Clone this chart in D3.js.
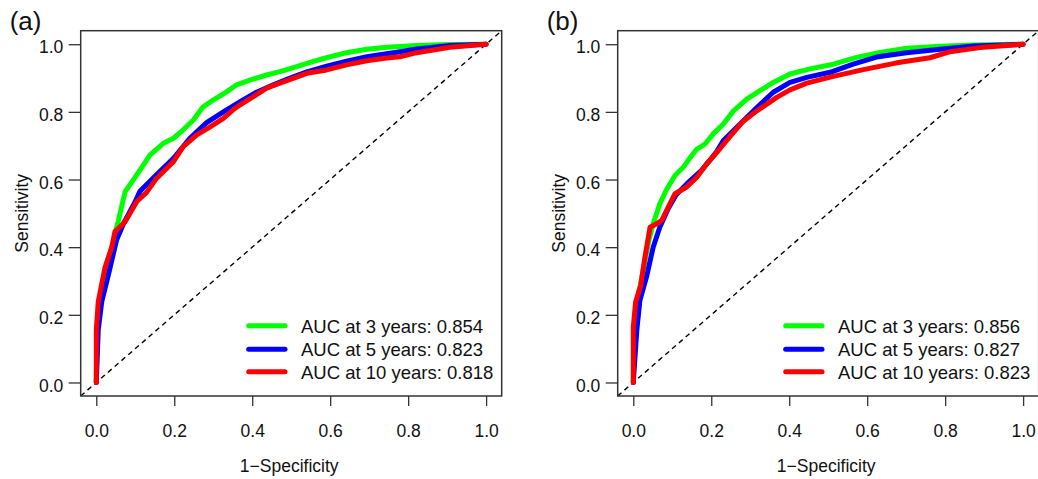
<!DOCTYPE html>
<html>
<head>
<meta charset="utf-8">
<script src="https://cdn.jsdelivr.net/npm/d3@7"></script>
<style>
  html, body { margin: 0; padding: 0; background: #fff; }
  svg { display: block; }
  text { font-family: "Liberation Sans", Arial, Helvetica, sans-serif; fill: #111; }
</style>
</head>
<body>
<svg id="chart" width="1038" height="479"></svg>
<script>
// Axis ticks shared by both panels
const tickValues = [0, 0.2, 0.4, 0.6, 0.8, 1.0];
const tickLabels = ["0.0", "0.2", "0.4", "0.6", "0.8", "1.0"];

// Legend entries and colours (time points)
const seriesNames = ["3 years", "5 years", "10 years"];
const seriesColors = ["#00ff00", "#0000ff", "#ff0000"];

// Panel (a): ROC points as [1-specificity, sensitivity]
const rocA3 = [[0,0],[0.002,0.155],[0.008,0.24],[0.025,0.33],[0.042,0.41],[0.05,0.45],[0.056,0.475],[0.065,0.52],[0.074,0.564],[0.095,0.599],[0.115,0.633],[0.138,0.673],[0.172,0.707],[0.198,0.722],[0.223,0.747],[0.249,0.776],[0.274,0.815],[0.300,0.835],[0.335,0.860],[0.360,0.880],[0.394,0.894],[0.437,0.909],[0.471,0.919],[0.514,0.934],[0.557,0.949],[0.600,0.963],[0.642,0.975],[0.694,0.985],[0.745,0.991],[0.779,0.993],[0.822,0.996],[0.907,0.999],[1,1]];
const rocA5 = [[0,0],[0.005,0.155],[0.014,0.239],[0.031,0.318],[0.052,0.421],[0.07,0.47],[0.10,0.535],[0.112,0.565],[0.155,0.615],[0.198,0.663],[0.240,0.722],[0.283,0.768],[0.326,0.800],[0.369,0.830],[0.411,0.858],[0.454,0.880],[0.497,0.900],[0.540,0.918],[0.591,0.935],[0.642,0.950],[0.694,0.963],[0.745,0.972],[0.779,0.978],[0.822,0.986],[0.907,0.996],[1,1]];
const rocA10 = [[0,0],[0,0.155],[0.005,0.239],[0.022,0.338],[0.040,0.402],[0.048,0.446],[0.074,0.475],[0.104,0.535],[0.129,0.562],[0.155,0.604],[0.198,0.653],[0.223,0.697],[0.258,0.732],[0.292,0.756],[0.326,0.781],[0.351,0.806],[0.369,0.821],[0.403,0.845],[0.437,0.870],[0.471,0.885],[0.505,0.899],[0.540,0.914],[0.591,0.924],[0.642,0.939],[0.694,0.951],[0.745,0.959],[0.779,0.963],[0.822,0.975],[0.907,0.991],[1,1]];
const aucA = [0.854, 0.823, 0.818];

// Panel (b): ROC points as [1-specificity, sensitivity]
const rocB3 = [[0,0],[0.003,0.16],[0.01,0.24],[0.025,0.33],[0.04,0.42],[0.051,0.469],[0.068,0.528],[0.086,0.572],[0.107,0.612],[0.128,0.636],[0.150,0.671],[0.163,0.690],[0.184,0.705],[0.205,0.735],[0.231,0.764],[0.257,0.803],[0.291,0.838],[0.325,0.863],[0.359,0.887],[0.402,0.912],[0.453,0.927],[0.513,0.941],[0.573,0.961],[0.633,0.976],[0.701,0.988],[0.787,0.994],[0.872,0.998],[1,1]];
const rocB5 = [[0,0],[0.009,0.154],[0.017,0.243],[0.034,0.312],[0.051,0.400],[0.068,0.459],[0.09,0.515],[0.11,0.555],[0.137,0.587],[0.175,0.627],[0.195,0.655],[0.214,0.683],[0.231,0.715],[0.274,0.764],[0.317,0.813],[0.359,0.858],[0.402,0.887],[0.445,0.902],[0.505,0.917],[0.564,0.941],[0.624,0.962],[0.701,0.975],[0.787,0.985],[0.872,0.995],[1,1]];
const rocB10 = [[0,0],[0,0.164],[0.006,0.238],[0.019,0.287],[0.030,0.371],[0.043,0.459],[0.060,0.469],[0.073,0.479],[0.090,0.519],[0.107,0.558],[0.137,0.578],[0.163,0.607],[0.188,0.646],[0.218,0.685],[0.25,0.73],[0.28,0.77],[0.317,0.803],[0.368,0.843],[0.402,0.865],[0.445,0.885],[0.513,0.905],[0.590,0.925],[0.676,0.945],[0.761,0.960],[0.813,0.978],[0.889,0.990],[1,1]];
const aucB = [0.856, 0.827, 0.823];

const panels = [
  { tag: "(a)", curves: [rocA3, rocA5, rocA10], auc: aucA, left: 80.7, right: 501.7 },
  { tag: "(b)", curves: [rocB3, rocB5, rocB10], auc: aucB, left: 617.7, right: 1038.7 }
];

const svg = d3.select("#chart");
const plotTop = 30.7, plotBottom = 396;
// R-style 4% padding around the [0,1] data range
const dom = [-0.04, 1.04];

panels.forEach(p => {
  const g = svg.append("g");
  const x = d3.scaleLinear().domain(dom).range([p.left, p.right]);
  const y = d3.scaleLinear().domain(dom).range([plotBottom, plotTop]);

  // clip region for the plotting area
  const clipId = "clip" + p.tag.replace(/\W/g, "");
  svg.append("clipPath").attr("id", clipId)
    .append("rect").attr("x", p.left).attr("y", plotTop)
    .attr("width", p.right - p.left).attr("height", plotBottom - plotTop);

  const plot = g.append("g").attr("clip-path", `url(#${clipId})`);

  // reference diagonal
  plot.append("line")
    .attr("x1", x(dom[0])).attr("y1", y(dom[0]))
    .attr("x2", x(dom[1])).attr("y2", y(dom[1]))
    .attr("stroke", "#000").attr("stroke-width", 1.4)
    .attr("stroke-dasharray", "5,4");

  const line = d3.line().x(d => x(d[0])).y(d => y(d[1]));
  p.curves.forEach((c, i) => {
    plot.append("path").datum(c)
      .attr("d", line)
      .attr("fill", "none")
      .attr("stroke", seriesColors[i])
      .attr("stroke-width", 5)
      .attr("stroke-linejoin", "round")
      .attr("stroke-linecap", "round");
  });

  // axes
  const xAxis = d3.axisBottom(x).tickValues(tickValues)
    .tickFormat((d, i) => tickLabels[i]).tickSize(10).tickPadding(19);
  const gx = g.append("g").attr("transform", `translate(0,${plotBottom})`).call(xAxis);
  const yAxis = d3.axisLeft(y).tickValues(tickValues)
    .tickFormat((d, i) => tickLabels[i]).tickSize(12).tickPadding(5.4);
  const gy = g.append("g").attr("transform", `translate(${p.left},0)`).call(yAxis);
  [gx, gy].forEach(a => {
    a.select(".domain").remove();
    a.selectAll(".tick line").attr("stroke", "#333").attr("stroke-width", 1.3);
    a.selectAll(".tick text").attr("font-size", 17.5).attr("fill", "#111")
      .style("font-family", '"Liberation Sans", Arial, sans-serif');
  });
  gy.selectAll(".tick text").attr("dy", "0.5em");

  // plot box
  g.append("rect")
    .attr("x", p.left).attr("y", plotTop)
    .attr("width", p.right - p.left).attr("height", plotBottom - plotTop)
    .attr("fill", "none").attr("stroke", "#333").attr("stroke-width", 1.5);

  // axis titles
  g.append("text")
    .attr("x", (p.left + p.right) / 2 - 2).attr("y", 472)
    .attr("text-anchor", "middle").attr("font-size", 17.5)
    .text("1\u2212Specificity");
  g.append("text")
    .attr("transform", `translate(${p.left - 53},${(plotTop + plotBottom) / 2}) rotate(-90)`)
    .attr("text-anchor", "middle").attr("font-size", 17.5)
    .text("Sensitivity");

  // panel tag
  g.append("text")
    .attr("x", p.left - 71).attr("y", 30)
    .attr("font-size", 26)
    .text(p.tag);

  // legend
  const legY = [325.7, 349.3, 371.7];
  seriesNames.forEach((name, i) => {
    g.append("line")
      .attr("x1", p.right - 253).attr("x2", p.right - 216.7)
      .attr("y1", legY[i]).attr("y2", legY[i])
      .attr("stroke", seriesColors[i]).attr("stroke-width", 5)
      .attr("stroke-linecap", "round");
    g.append("text")
      .attr("x", p.right - 200.7).attr("y", legY[i] + 7)
      .attr("font-size", 18.5)
      .text(`AUC at ${name}: ${p.auc[i].toFixed(3)}`);
  });
});
</script>
</body>
</html>
